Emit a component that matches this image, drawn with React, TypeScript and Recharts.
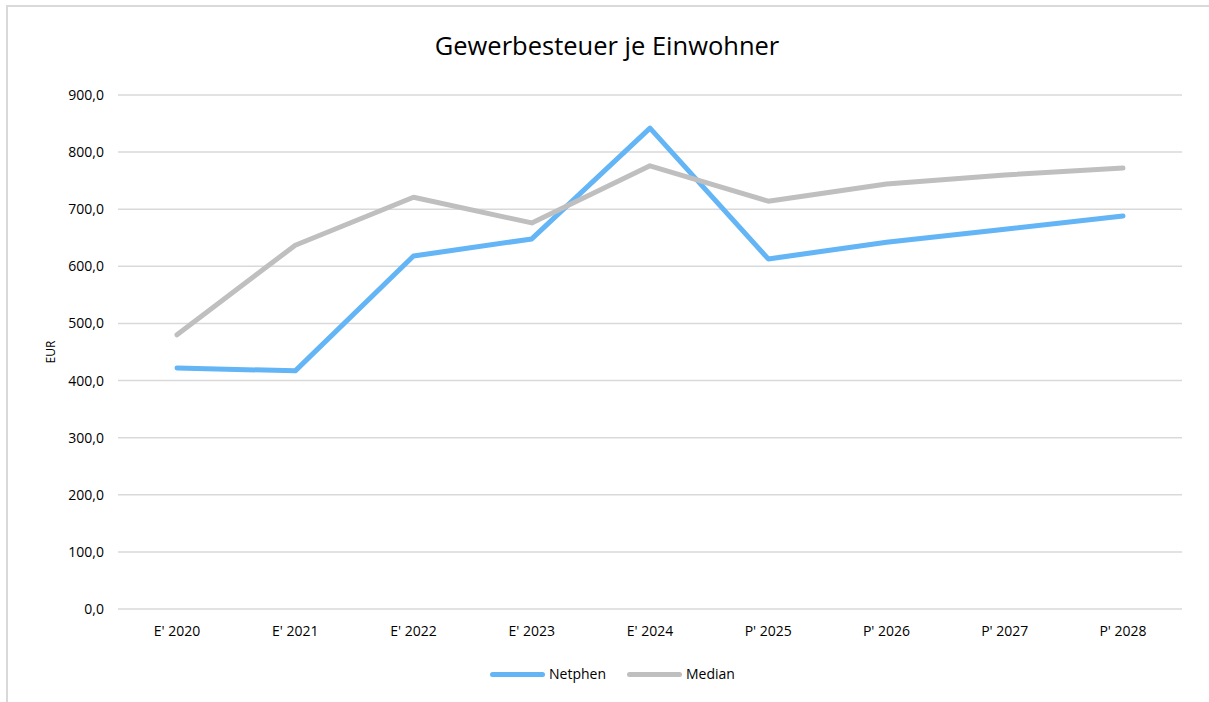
import React from 'react';
import { LineChart, Line, XAxis, YAxis, CartesianGrid } from 'recharts';

const years = ["E' 2020", "E' 2021", "E' 2022", "E' 2023", "E' 2024", "P' 2025", "P' 2026", "P' 2027", "P' 2028"];
const netphen = [422, 417, 618, 648, 842, 613, 642, 665, 688];
const median = [480, 637, 721, 676, 776, 714, 744, 760, 772];
const yTicks = [0, 100, 200, 300, 400, 500, 600, 700, 800, 900];

const data = years.map((year, i) => ({ year, netphen: netphen[i], median: median[i] }));

const FONT = '"Open Sans", sans-serif';
const BLUE = '#63b5f6';
const GRAY = '#bfbfbf';

const fmt = (v: number) => v.toFixed(1).replace('.', ',');

export default function App() {
  return (
    <div style={{ position: 'absolute', left: 0, top: 0, width: 1209, height: 702, overflow: 'hidden', background: '#fff', fontFamily: FONT }}>
      <div style={{ position: 'absolute', left: 6, top: 5, width: 1230, height: 740, border: '2px solid #d9d9d9', boxSizing: 'border-box' }} />
      <div style={{ position: 'absolute', left: 0, top: 27, width: 1214, textAlign: 'center', fontSize: 25.5, color: '#000', lineHeight: '36px' }}>
        Gewerbesteuer je Einwohner
      </div>
      <div style={{ position: 'absolute', left: 0, top: 0 }}>
        <LineChart width={1209} height={702} data={data} margin={{ top: 95, right: 27, bottom: 0, left: 0 }}>
          <CartesianGrid horizontal vertical={false} stroke="#d9d9d9" strokeWidth={1.5} />
          <XAxis
            dataKey="year"
            height={93}
            axisLine={false}
            tickLine={false}
            tickSize={0}
            tickMargin={17}
            padding={{ left: 59, right: 59 }}
            tick={{ fontSize: 14, fill: '#000', fontFamily: FONT }}
            interval={0}
          />
          <YAxis
            width={118}
            domain={[0, 900]}
            ticks={yTicks}
            tickFormatter={fmt}
            axisLine={false}
            tickLine={false}
            tickSize={0}
            tickMargin={14}
            tick={{ fontSize: 14, fill: '#000', fontFamily: FONT }}
            label={{ value: 'EUR', angle: -90, position: 'insideLeft', offset: 51, style: { textAnchor: 'middle', fontSize: 12, fill: '#000', fontFamily: FONT } }}
          />
          <Line dataKey="netphen" name="Netphen" stroke={BLUE} strokeWidth={5} dot={false} strokeLinejoin="round" strokeLinecap="round" isAnimationActive={false} />
          <Line dataKey="median" name="Median" stroke={GRAY} strokeWidth={5} dot={false} strokeLinejoin="round" strokeLinecap="round" isAnimationActive={false} />
        </LineChart>
      </div>
      <div style={{ position: 'absolute', left: 490, top: 664, display: 'flex', alignItems: 'center', fontSize: 14, color: '#000', lineHeight: '20px' }}>
        <span style={{ display: 'inline-block', width: 55, height: 5, borderRadius: 3, background: BLUE, marginRight: 4 }} />
        <span style={{ marginRight: 21 }}>Netphen</span>
        <span style={{ display: 'inline-block', width: 55, height: 5, borderRadius: 3, background: GRAY, marginRight: 4 }} />
        <span>Median</span>
      </div>
    </div>
  );
}
